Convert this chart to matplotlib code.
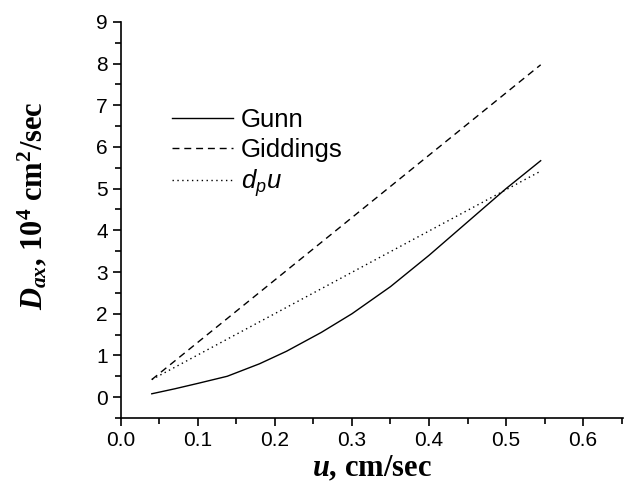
import matplotlib
matplotlib.use("Agg")
import matplotlib.pyplot as plt
from matplotlib.ticker import MultipleLocator

plt.rcParams['font.family'] = 'Liberation Sans'
plt.rcParams['mathtext.fontset'] = 'custom'
plt.rcParams['mathtext.rm'] = 'Liberation Serif:bold'
plt.rcParams['mathtext.it'] = 'Liberation Serif:italic:bold'
plt.rcParams['mathtext.bf'] = 'Liberation Serif:bold'
plt.rcParams['mathtext.sf'] = 'Liberation Sans:italic'

# data
u_gunn = [0.04, 0.07, 0.10, 0.138, 0.18, 0.215, 0.26, 0.30, 0.35, 0.40, 0.45, 0.50, 0.545]
d_gunn = [0.08, 0.20, 0.33, 0.50, 0.80, 1.10, 1.55, 2.00, 2.65, 3.40, 4.20, 5.00, 5.67]

u_gidd = [0.04, 0.545]
d_gidd = [0.42, 7.97]

u_dpu = [0.04, 0.545]
d_dpu = [0.42, 5.42]

fig = plt.figure(figsize=(6.3, 4.86), dpi=100)
ax = fig.add_axes([0.192, 0.14, 0.797, 0.815])

ax.plot(u_gunn, d_gunn, color='black', lw=1.0, ls='-', label='Gunn')
ax.plot(u_gidd, d_gidd, color='black', lw=1.0, ls=(0, (5, 3.5)), label='Giddings')
ax.plot(u_dpu, d_dpu, color='black', lw=1.0, ls=(0, (1, 2.5)), label=r'$\mathsf{d_{p}u}$')

ax.set_xlim(0, 0.652)
ax.set_ylim(-0.5, 9)
ax.xaxis.set_major_locator(MultipleLocator(0.1))
ax.xaxis.set_minor_locator(MultipleLocator(0.05))
ax.yaxis.set_major_locator(MultipleLocator(1))
ax.yaxis.set_minor_locator(MultipleLocator(0.5))
ax.xaxis.set_major_formatter(plt.FormatStrFormatter('%.1f'))

for s in ['top', 'right']:
    ax.spines[s].set_visible(False)
for s in ['left', 'bottom']:
    ax.spines[s].set_linewidth(1.2)
ax.tick_params(which='both', direction='out', width=1.2, labelsize=15)
ax.tick_params(which='major', length=6)
ax.tick_params(which='minor', length=4)

ax.set_xlabel(r'$u$, cm/sec', family='Liberation Serif', weight='bold', fontsize=22, labelpad=3)
ax.set_ylabel(r'$D_{ax}$, 10$^4$ cm$^2$/sec', family='Liberation Serif', weight='bold', fontsize=22)
ax.yaxis.set_label_coords(-0.143, 0.535)

ax.legend(loc='upper left', bbox_to_anchor=(0.055, 0.84), frameon=False, fontsize=18.5,
          handlelength=2.4, handletextpad=0.3, labelspacing=0.22)

fig.savefig('out.png', dpi=100)
